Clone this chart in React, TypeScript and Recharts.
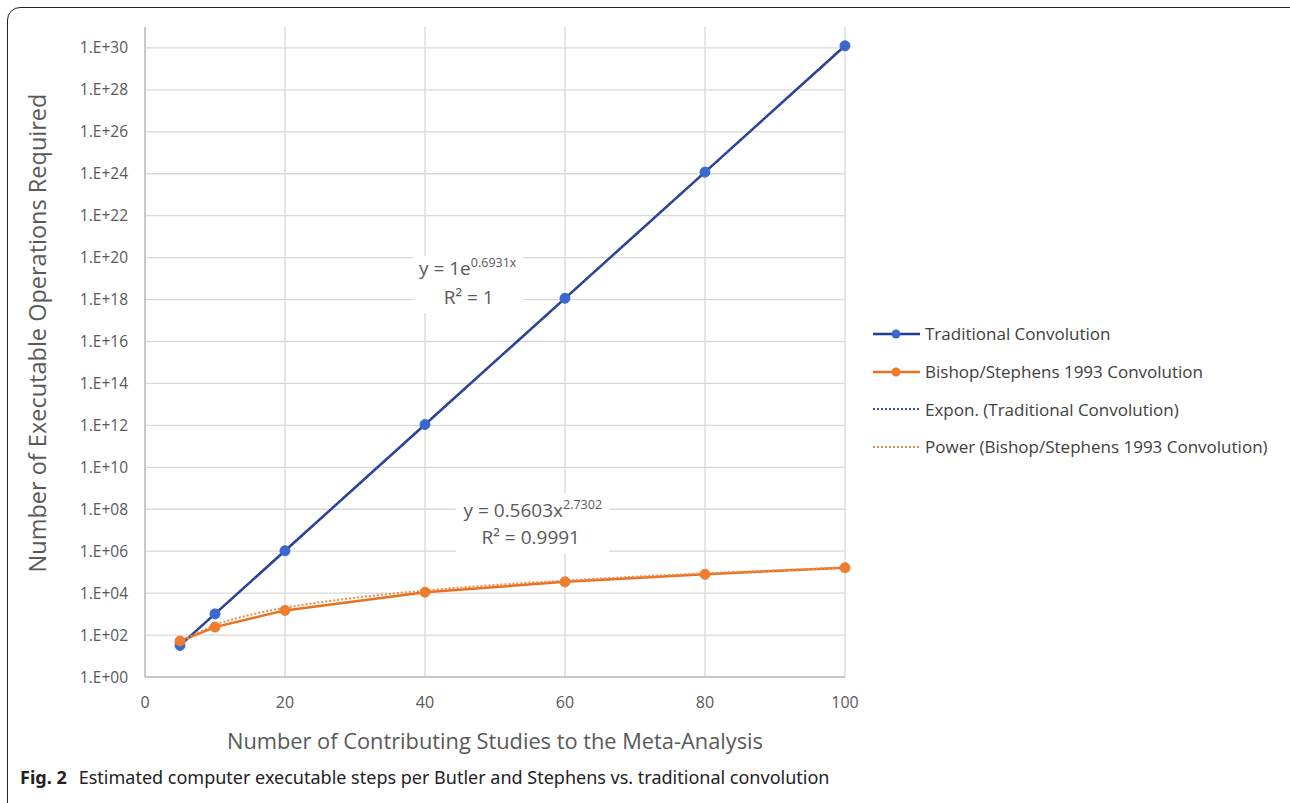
import React from 'react';
import { LineChart, Line, XAxis, YAxis, CartesianGrid, ReferenceDot } from 'recharts';

// ---- data ----
const studyCounts = [5, 10, 20, 40, 60, 80, 100];
const traditionalOps = [32, 1024, 1.05e6, 1.1e12, 1.15e18, 1.2e24, 1.27e30];
const bishopOps = [52, 240, 1500, 11000, 34500, 79000, 163000];
const trendX = [5, 10, 15, 20, 30, 40, 50, 60, 70, 80, 90, 100];
const exponTrend = [32, 1024, 3.3e4, 1.05e6, 1.07e9, 1.1e12, 1.13e15, 1.15e18, 1.18e21, 1.2e24, 1.24e27, 1.27e30];
const powerTrend = [45, 300, 910, 2000, 6000, 13300, 24400, 40000, 60500, 87600, 121000, 166000];
const xTicks = [0, 20, 40, 60, 80, 100];
const yTicks = [1, 1e2, 1e4, 1e6, 1e8, 1e10, 1e12, 1e14, 1e16, 1e18, 1e20, 1e22, 1e24, 1e26, 1e28, 1e30];
const yTickLabels = ['1.E+00', '1.E+02', '1.E+04', '1.E+06', '1.E+08', '1.E+10', '1.E+12', '1.E+14', '1.E+16', '1.E+18', '1.E+20', '1.E+22', '1.E+24', '1.E+26', '1.E+28', '1.E+30'];
const seriesNames = [
  'Traditional Convolution',
  'Bishop/Stephens 1993 Convolution',
  'Expon. (Traditional Convolution)',
  'Power (Bishop/Stephens 1993 Convolution)',
];
const xTitle = 'Number of Contributing Studies to the Meta-Analysis';
const yTitle = 'Number of Executable Operations Required';

const traditionalData = studyCounts.map((x, i) => ({ x, y: traditionalOps[i] }));
const bishopData = studyCounts.map((x, i) => ({ x, y: bishopOps[i] }));
const exponData = trendX.map((x, i) => ({ x, y: exponTrend[i] }));
const powerData = trendX.map((x, i) => ({ x, y: powerTrend[i] }));

const FONT = '"Open Sans", "Noto Sans", sans-serif';
const BLUE_LINE = '#1f3c9a';
const BLUE_DOT = '#3a68cf';
const ORANGE_LINE = '#e8701e';
const ORANGE_DOT = '#ee7d2f';
const TEXT = '#595959';

const legendStyles = [
  { color: BLUE_LINE, dot: BLUE_DOT as string | null, dash: undefined as string | undefined },
  { color: ORANGE_LINE, dot: ORANGE_DOT as string | null, dash: undefined as string | undefined },
  { color: '#3b4f9e', dot: null as string | null, dash: '2 2' },
  { color: '#ef8a4a', dot: null as string | null, dash: '2 2' },
];

const LegendBlock = () => (
  <div style={{ position: 'absolute', left: 872, top: 315, fontFamily: FONT, fontSize: 17, color: '#404040', whiteSpace: 'nowrap' }}>
    {seriesNames.map((name, i) => (
      <div key={name} style={{ display: 'flex', alignItems: 'center', height: 37.7 }}>
        <svg width={50} height={14} style={{ marginRight: 3 }}>
          <line x1={1} y1={7} x2={48} y2={7} stroke={legendStyles[i].color} strokeWidth={legendStyles[i].dash ? 2 : 2.5} strokeDasharray={legendStyles[i].dash} />
          {legendStyles[i].dot && <circle cx={24} cy={7} r={4.5} fill={legendStyles[i].dot as string} />}
        </svg>
        <span>{name}</span>
      </div>
    ))}
  </div>
);

const Annotation1 = (props: any) => {
  const { cx, cy } = props;
  if (cx == null || cy == null) return null;
  return (
    <g>
      <rect x={cx - 54} y={cy - 28} width={109} height={57} fill="#fff" />
      <text x={cx} y={cy - 9} textAnchor="middle" fontFamily={FONT} fontSize={19} fill={TEXT}>
        y = 1e<tspan fontSize={12.5} dy={-8}>0.6931x</tspan>
      </text>
      <text x={cx + 1} y={cy + 20} textAnchor="middle" fontFamily={FONT} fontSize={19} fill={TEXT}>
        R² = 1
      </text>
    </g>
  );
};

const Annotation2 = (props: any) => {
  const { cx, cy } = props;
  if (cx == null || cy == null) return null;
  return (
    <g>
      <rect x={cx - 77} y={cy - 30} width={153} height={60} fill="#fff" />
      <text x={cx} y={cy - 6} textAnchor="middle" fontFamily={FONT} fontSize={19} fill={TEXT}>
        y = 0.5603x<tspan fontSize={12.5} dy={-8}>2.7302</tspan>
      </text>
      <text x={cx - 2} y={cy + 21} textAnchor="middle" fontFamily={FONT} fontSize={19} fill={TEXT}>
        R² = 0.9991
      </text>
    </g>
  );
};

export default function App() {
  return (
    <div style={{ position: 'absolute', left: 0, top: 0, width: 1290, height: 803, overflow: 'hidden', background: '#fff' }}>
      <div
        style={{
          position: 'absolute',
          left: 7,
          top: 7,
          width: 1300,
          height: 820,
          border: '1.5px solid #222',
          borderRadius: 13,
          boxSizing: 'border-box',
        }}
      />
      <div style={{ position: 'absolute', left: 0, top: 0 }}>
        <LineChart width={1290} height={803} margin={{ top: 27, right: 445, left: 60, bottom: 66 }}>
          <CartesianGrid stroke="#d9d9d9" strokeWidth={1.3} horizontalValues={yTicks} verticalValues={xTicks} />
          <XAxis
            type="number"
            dataKey="x"
            domain={[0, 100]}
            ticks={xTicks}
            tickLine={false}
            tickSize={0}
            tickMargin={20}
            height={60}
            axisLine={{ stroke: '#bfbfbf', strokeWidth: 1.5 }}
            tick={{ fill: TEXT, fontSize: 16, fontFamily: FONT }}
            allowDuplicatedCategory={false}
            label={{
              content: (p: any) => {
                const vb = p.viewBox || {};
                return (
                  <text x={(vb.x ?? 145) + (vb.width ?? 700) / 2} y={749} textAnchor="middle" fontFamily={FONT} fontSize={21.8} fill={TEXT}>
                    {xTitle}
                  </text>
                );
              },
            }}
          />
          <YAxis
            type="number"
            dataKey="y"
            scale="log"
            domain={[1, 1e31]}
            ticks={yTicks}
            allowDataOverflow
            tickLine={false}
            tickSize={0}
            tickMargin={17}
            width={85}
            axisLine={{ stroke: '#bfbfbf', strokeWidth: 1.5 }}
            tick={{ fill: TEXT, fontSize: 15.5, fontFamily: FONT }}
            tickFormatter={(v: number) => yTickLabels[yTicks.indexOf(v)] ?? ''}
            label={{
              content: () => (
                <text x={46} y={333} textAnchor="middle" fontFamily={FONT} fontSize={23.5} fill={TEXT} transform="rotate(-90, 46, 333)">
                  {yTitle}
                </text>
              ),
            }}
          />
          <ReferenceDot x={46.1} y={5.5e18} r={0} shape={Annotation1} ifOverflow="visible" />
          <ReferenceDot x={55.4} y={2.2e7} r={0} shape={Annotation2} ifOverflow="visible" />
          <Line
            data={traditionalData}
            dataKey="y"
            name={seriesNames[0]}
            stroke={BLUE_LINE}
            strokeWidth={2.5}
            dot={{ r: 5, fill: BLUE_DOT, stroke: BLUE_DOT, strokeWidth: 1 }}
            isAnimationActive={false}
          />
          <Line
            data={bishopData}
            dataKey="y"
            name={seriesNames[1]}
            stroke={ORANGE_LINE}
            strokeWidth={2.5}
            dot={{ r: 5, fill: ORANGE_DOT, stroke: ORANGE_DOT, strokeWidth: 1 }}
            isAnimationActive={false}
          />
          <Line
            data={exponData}
            dataKey="y"
            name={seriesNames[2]}
            stroke="#3b4f9e"
            strokeWidth={2}
            strokeDasharray="2 2"
            dot={false}
            type="monotone"
            isAnimationActive={false}
          />
          <Line
            data={powerData}
            dataKey="y"
            name={seriesNames[3]}
            stroke="#ef8a4a"
            strokeWidth={2}
            strokeDasharray="2 2"
            dot={false}
            type="monotone"
            isAnimationActive={false}
          />
        </LineChart>
      </div>
      <LegendBlock />
      <div
        style={{
          position: 'absolute',
          left: 20,
          top: 765,
          fontFamily: '"Noto Sans", sans-serif',
          fontSize: 18,
          color: '#222',
          whiteSpace: 'nowrap',
        }}
      >
        <span style={{ fontWeight: 700 }}>Fig. 2</span>
        <span style={{ marginLeft: 12 }}>Estimated computer executable steps per Butler and Stephens vs. traditional convolution</span>
      </div>
    </div>
  );
}
